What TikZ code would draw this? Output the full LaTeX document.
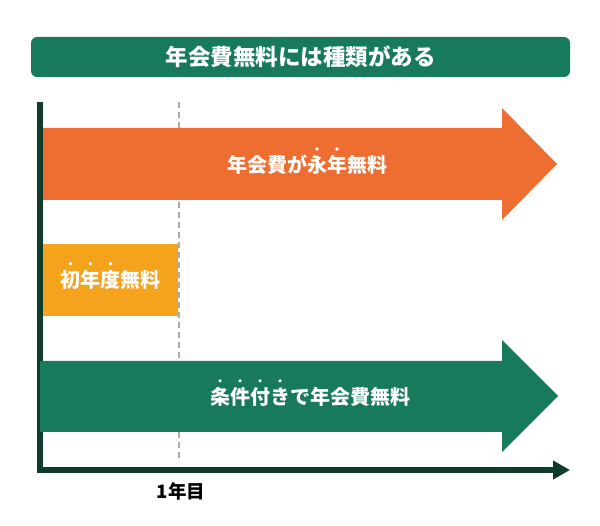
\documentclass[tikz,border=0pt]{standalone}
\usepackage{fontspec}
\newfontfamily\jpfont{Noto Sans CJK JP}
\usetikzlibrary{arrows.meta}
\definecolor{feegreen}{RGB}{23,122,92}
\definecolor{feeorange}{RGB}{238,110,49}
\definecolor{feeyellow}{RGB}{245,162,29}
\definecolor{axisgreen}{RGB}{14,59,42}
\definecolor{guidegray}{RGB}{170,170,170}
% emphasis dot above one character
\newcommand{\boten}[1]{\leavevmode\rlap{\smash{\makebox[1em]{\raisebox{1.1em}{\tikz\fill (0,0) circle (1.8pt);}}}}#1}

\begin{document}
\begin{tikzpicture}[x=1pt, y=-1pt,
  jp/.style    = {font=\jpfont\bfseries\fontsize{20pt}{24pt}\selectfont, inner sep=0pt},
  band/.style  = {jp, text=white},
  guide/.style = {draw=guidegray, line width=2.2pt, dash pattern=on 6pt off 4pt},
  axis/.style  = {draw=axisgreen, line width=6pt, line join=miter,
                  -{Triangle[length=17pt, width=18pt]}}
]
  \useasboundingbox (0,0) rectangle (600,526);

  % ---- title ----
  \node[jp, text=white, fill=feegreen, rounded corners=6pt,
        font=\jpfont\bfseries\fontsize{22.5pt}{26pt}\selectfont,
        minimum width=539pt, minimum height=40pt] (title) at (300.5,57)
        {年会費無料には種類がある};

  % ---- 1st year guide ----
  \coordinate (gtop) at (179,102);
  \coordinate (gbot) at (179,462);
  \draw[guide] (gtop) -- (gbot);

  % ---- axes ----
  \coordinate (ytop) at (40,102);
  \coordinate (xend) at (570,470);
  \draw[axis] (ytop) |- (xend);

  % ---- forever free ----
  \fill[feeorange] (43,128) -- (502,128) -- (502,108) -- (557,164)
                   -- (502,220) -- (502,200) -- (43,200) -- cycle;
  \node[band] (forever) at (307,165)
        {年会費が\boten{永}\boten{年}無料};

  % ---- first year free ----
  \node[band, fill=feeyellow, minimum width=135pt, minimum height=72pt]
        (firstyear) at (110.5,280) {\boten{初}\boten{年}\boten{度}無料\hspace{4pt}};

  % ---- conditional free ----
  \fill[feegreen] (40,361) -- (502,361) -- (502,340) -- (558,396)
                  -- (502,452) -- (502,432) -- (40,432) -- cycle;
  \node[band] (conditional) at (310,397)
        {\boten{条}\boten{件}\boten{付}\boten{き}で年会費無料};

  % ---- axis label ----
  \node[jp, text=black, font=\jpfont\bfseries\fontsize{18.5pt}{22pt}\selectfont]
        (year1) at (181,491) {1年目};
\end{tikzpicture}
\end{document}
